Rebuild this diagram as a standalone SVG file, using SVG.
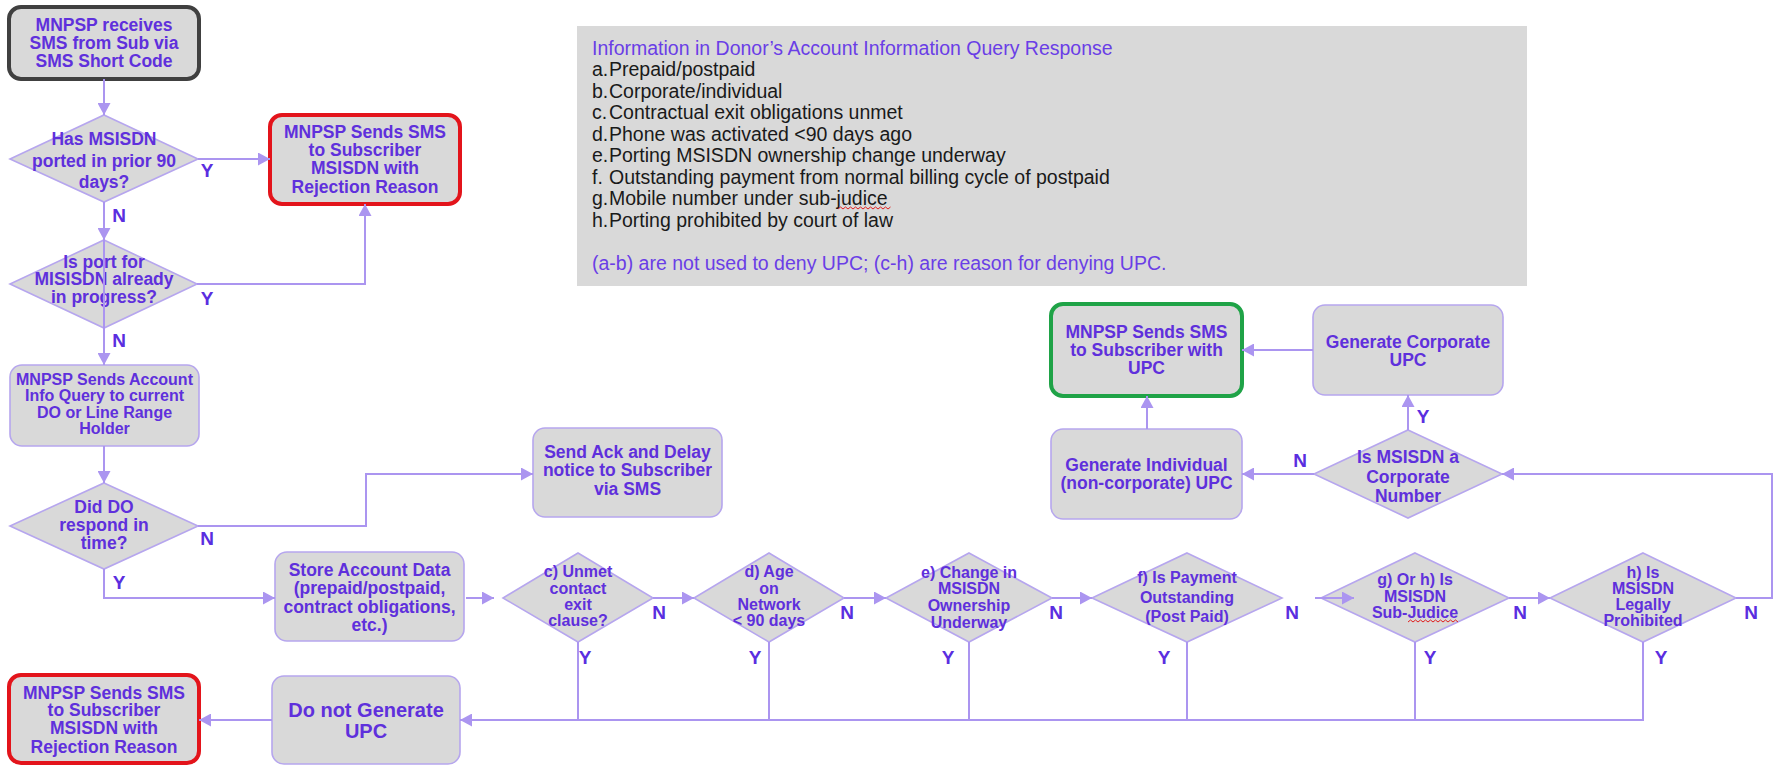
<svg xmlns="http://www.w3.org/2000/svg" width="1773" height="765" viewBox="0 0 1773 765">
<style>
.box{fill:#d9d9d9;stroke:#b6a6ee;stroke-width:1.6}
.start{fill:#d9d9d9;stroke:#404040;stroke-width:4}
.red{fill:#d9d9d9;stroke:#e3141b;stroke-width:4}
.green{fill:#d9d9d9;stroke:#1fa347;stroke-width:4}
.dia{fill:#d9d9d9;stroke:#b6a6ee;stroke-width:1.6}
.t{font-family:"Liberation Sans",Arial,sans-serif;font-weight:bold;fill:#5f30dc;text-anchor:middle;font-size:17.5px}
.t16{font-size:16px}
.t20{font-size:20px}
.lbl{font-family:"Liberation Sans",Arial,sans-serif;font-weight:bold;fill:#5a2ee0;text-anchor:middle;font-size:19px}
.c{fill:none;stroke:#ab95f0;stroke-width:2}
.ca{fill:none;stroke:#ab95f0;stroke-width:2;marker-end:url(#ah)}
.info{font-family:"Liberation Sans",Arial,sans-serif;font-size:19.5px}
.ip{fill:#6a3ee6}
.ik{fill:#1a1a1a}
.sq{fill:none;stroke:#e02020;stroke-width:1}
</style>
<defs>
<marker id="ah" markerUnits="userSpaceOnUse" markerWidth="13" markerHeight="13" refX="12" refY="6.5" orient="auto">
<path d="M0,0 L12,6.5 L0,13 z" fill="#ab95f0"/>
</marker>
</defs>

<g id="info">
<rect x="577" y="26" width="950" height="260" fill="#d9d9d9"/>
<text class="info ip" x="592" y="55">Information in Donor’s Account Information Query Response</text>
<g class="info ik">
<text x="592" y="76">a.</text><text x="609" y="76">Prepaid/postpaid</text>
<text x="592" y="97.5">b.</text><text x="609" y="97.5">Corporate/individual</text>
<text x="592" y="119">c.</text><text x="609" y="119">Contractual exit obligations unmet</text>
<text x="592" y="140.5">d.</text><text x="609" y="140.5">Phone was activated &lt;90 days ago</text>
<text x="592" y="162">e.</text><text x="609" y="162">Porting MSISDN ownership change underway</text>
<text x="592" y="183.5">f.</text><text x="609" y="183.5">Outstanding payment from normal billing cycle of postpaid</text>
<text x="592" y="205">g.</text><text x="609" y="205">Mobile number under sub-judice</text>
<text x="592" y="226.5">h.</text><text x="609" y="226.5">Porting prohibited by court of law</text>
</g>
<text class="info ip" x="592" y="270">(a-b) are not used to deny UPC; (c-h) are reason for denying UPC.</text>
<path class="sq" d="M838,209 l2.5,-2 l2.5,2 l2.5,-2 l2.5,2 l2.5,-2 l2.5,2 l2.5,-2 l2.5,2 l2.5,-2 l2.5,2 l2.5,-2 l2.5,2 l2.5,-2 l2.5,2 l2.5,-2 l2.5,2 l2.5,-2 l2.5,2 l2.5,-2 l2.5,2 l2.5,-2"/>
</g>

<g id="start">
<rect class="start" x="9" y="7" width="190" height="72" rx="12"/>
<text class="t" x="104" y="31">MNPSP receives</text>
<text class="t" x="104" y="49">SMS from Sub via</text>
<text class="t" x="104" y="67">SMS Short Code</text>
</g>

<g id="d1">
<polygon class="dia" points="104,115 198,159 104,202 10,159"/>
<text class="t" x="104" y="145">Has MSISDN</text>
<text class="t" x="104" y="167">ported in prior 90</text>
<text class="t" x="104" y="188">days?</text>
</g>

<g id="rej1">
<rect class="red" x="270" y="115" width="190" height="89" rx="12"/>
<text class="t" x="365" y="138">MNPSP Sends SMS</text>
<text class="t" x="365" y="156">to Subscriber</text>
<text class="t" x="365" y="174">MSISDN with</text>
<text class="t" x="365" y="193">Rejection Reason</text>
</g>

<g id="d2">
<polygon class="dia" points="104,240 197,284 104,328 10,284"/>
<text class="t" x="104" y="268">Is port for</text>
<text class="t" x="104" y="285">MISISDN already</text>
<text class="t" x="104" y="303">in progress?</text>
</g>

<g id="acct">
<rect class="box" x="10" y="365" width="189" height="81" rx="12"/>
<text class="t t16" x="104.5" y="385">MNPSP Sends Account</text>
<text class="t t16" x="104.5" y="401">Info Query to current</text>
<text class="t t16" x="104.5" y="418">DO or Line Range</text>
<text class="t t16" x="104.5" y="434">Holder</text>
</g>

<g id="d3">
<polygon class="dia" points="104,483 198,526 104,569 10,526"/>
<text class="t" x="104" y="513">Did DO</text>
<text class="t" x="104" y="531">respond in</text>
<text class="t" x="104" y="549">time?</text>
</g>

<g id="ack">
<rect class="box" x="533" y="428" width="189" height="89" rx="12"/>
<text class="t" x="627.5" y="458">Send Ack and Delay</text>
<text class="t" x="627.5" y="476">notice to Subscriber</text>
<text class="t" x="627.5" y="495">via SMS</text>
</g>

<g id="store">
<rect class="box" x="275" y="552" width="189" height="89" rx="12"/>
<text class="t" x="369.5" y="576">Store Account Data</text>
<text class="t" x="369.5" y="594">(prepaid/postpaid,</text>
<text class="t" x="369.5" y="613">contract obligations,</text>
<text class="t" x="369.5" y="631">etc.)</text>
</g>

<g id="dc">
<polygon class="dia" points="578,553 653,598 578,642 503,598"/>
<text class="t t16" x="578" y="577">c) Unmet</text>
<text class="t t16" x="578" y="594">contact</text>
<text class="t t16" x="578" y="610">exit</text>
<text class="t t16" x="578" y="626">clause?</text>
</g>

<g id="dd">
<polygon class="dia" points="769,553 844,598 769,642 694,598"/>
<text class="t t16" x="769" y="577">d) Age</text>
<text class="t t16" x="769" y="594">on</text>
<text class="t t16" x="769" y="610">Network</text>
<text class="t t16" x="769" y="626">&lt; 90 days</text>
</g>

<g id="de">
<polygon class="dia" points="969,553 1052,598 969,642 886,598"/>
<text class="t t16" x="969" y="578">e) Change in</text>
<text class="t t16" x="969" y="594">MSISDN</text>
<text class="t t16" x="969" y="611">Ownership</text>
<text class="t t16" x="969" y="628">Underway</text>
</g>

<g id="df">
<polygon class="dia" points="1187,553 1282,598 1187,642 1092,598"/>
<text class="t t16" x="1187" y="583">f) Is Payment</text>
<text class="t t16" x="1187" y="603">Outstanding</text>
<text class="t t16" x="1187" y="622">(Post Paid)</text>
</g>

<g id="dg">
<polygon class="dia" points="1415,553 1509,598 1415,642 1321,598"/>
<text class="t t16" x="1415" y="585">g) Or h) Is</text>
<text class="t t16" x="1415" y="602">MSISDN</text>
<text class="t t16" x="1415" y="618">Sub-Judice</text>
<path class="sq" d="M1408,622 l2.5,-2 l2.5,2 l2.5,-2 l2.5,2 l2.5,-2 l2.5,2 l2.5,-2 l2.5,2 l2.5,-2 l2.5,2 l2.5,-2 l2.5,2 l2.5,-2 l2.5,2 l2.5,-2 l2.5,2 l2.5,-2 l2.5,2 l2.5,-2 l2.5,2"/>
</g>

<g id="dh">
<polygon class="dia" points="1643,553 1736,598 1643,642 1550,598"/>
<text class="t t16" x="1643" y="578">h) Is</text>
<text class="t t16" x="1643" y="594">MSISDN</text>
<text class="t t16" x="1643" y="610">Legally</text>
<text class="t t16" x="1643" y="626">Prohibited</text>
</g>

<g id="donot">
<rect class="box" x="272" y="676" width="188" height="88" rx="12"/>
<text class="t t20" x="366" y="717">Do not Generate</text>
<text class="t t20" x="366" y="738">UPC</text>
</g>

<g id="rej2">
<rect class="red" x="9" y="675" width="190" height="88" rx="12"/>
<text class="t" x="104" y="699">MNPSP Sends SMS</text>
<text class="t" x="104" y="716">to Subscriber</text>
<text class="t" x="104" y="734">MSISDN with</text>
<text class="t" x="104" y="753">Rejection Reason</text>
</g>

<g id="upc">
<rect class="green" x="1051" y="304" width="191" height="92" rx="12"/>
<text class="t" x="1146.5" y="338">MNPSP Sends SMS</text>
<text class="t" x="1146.5" y="356">to Subscriber with</text>
<text class="t" x="1146.5" y="374">UPC</text>
</g>

<g id="corp">
<rect class="box" x="1313" y="305" width="190" height="90" rx="12"/>
<text class="t" x="1408" y="348">Generate Corporate</text>
<text class="t" x="1408" y="366">UPC</text>
</g>

<g id="indiv">
<rect class="box" x="1051" y="429" width="191" height="90" rx="12"/>
<text class="t" x="1146.5" y="471">Generate Individual</text>
<text class="t" x="1146.5" y="489">(non-corporate) UPC</text>
</g>

<g id="dcorp">
<polygon class="dia" points="1408,430 1502,474 1408,518 1314,474"/>
<text class="t" x="1408" y="463">Is MSISDN a</text>
<text class="t" x="1408" y="483">Corporate</text>
<text class="t" x="1408" y="502">Number</text>
</g>

<g id="connectors">
<path class="ca" d="M104,79 V115"/>
<path class="ca" d="M198,159 H270"/>
<path class="ca" d="M104,202 V240"/>
<path class="ca" d="M197,284 H365 V204"/>
<path class="ca" d="M104,240 V365"/>
<path class="ca" d="M104,446 V483"/>
<path class="ca" d="M198,526 H366 V474 H533"/>
<path class="ca" d="M104,569 V598 H275"/>
<path class="ca" d="M466,598 H494"/>
<path class="ca" d="M653,598 H694"/>
<path class="ca" d="M844,598 H886"/>
<path class="ca" d="M1052,598 H1092"/>
<path class="ca" d="M1315,598 H1354"/>
<path class="ca" d="M1509,598 H1550"/>
<path class="ca" d="M1736,598 H1772 V474 H1502"/>
<path class="ca" d="M1408,430 V395"/>
<path class="ca" d="M1314,474 H1242"/>
<path class="ca" d="M1313,350 H1242"/>
<path class="ca" d="M1147,429 V396"/>
<path class="c" d="M578,642 V720 M769,642 V720 M969,642 V720 M1187,642 V720 M1415,642 V720"/>
<path class="ca" d="M1643,642 V720 H460"/>
<path class="ca" d="M272,720 H199"/>
</g>

<g id="labels">
<text class="lbl" x="207" y="177">Y</text>
<text class="lbl" x="119" y="222">N</text>
<text class="lbl" x="207" y="305">Y</text>
<text class="lbl" x="119" y="347">N</text>
<text class="lbl" x="207" y="545">N</text>
<text class="lbl" x="119" y="589">Y</text>
<text class="lbl" x="659" y="619">N</text>
<text class="lbl" x="585" y="664">Y</text>
<text class="lbl" x="847" y="619">N</text>
<text class="lbl" x="755" y="664">Y</text>
<text class="lbl" x="1056" y="619">N</text>
<text class="lbl" x="948" y="664">Y</text>
<text class="lbl" x="1292" y="619">N</text>
<text class="lbl" x="1164" y="664">Y</text>
<text class="lbl" x="1520" y="619">N</text>
<text class="lbl" x="1430" y="664">Y</text>
<text class="lbl" x="1751" y="619">N</text>
<text class="lbl" x="1661" y="664">Y</text>
<text class="lbl" x="1423" y="423">Y</text>
<text class="lbl" x="1300" y="467">N</text>
</g>
</svg>
